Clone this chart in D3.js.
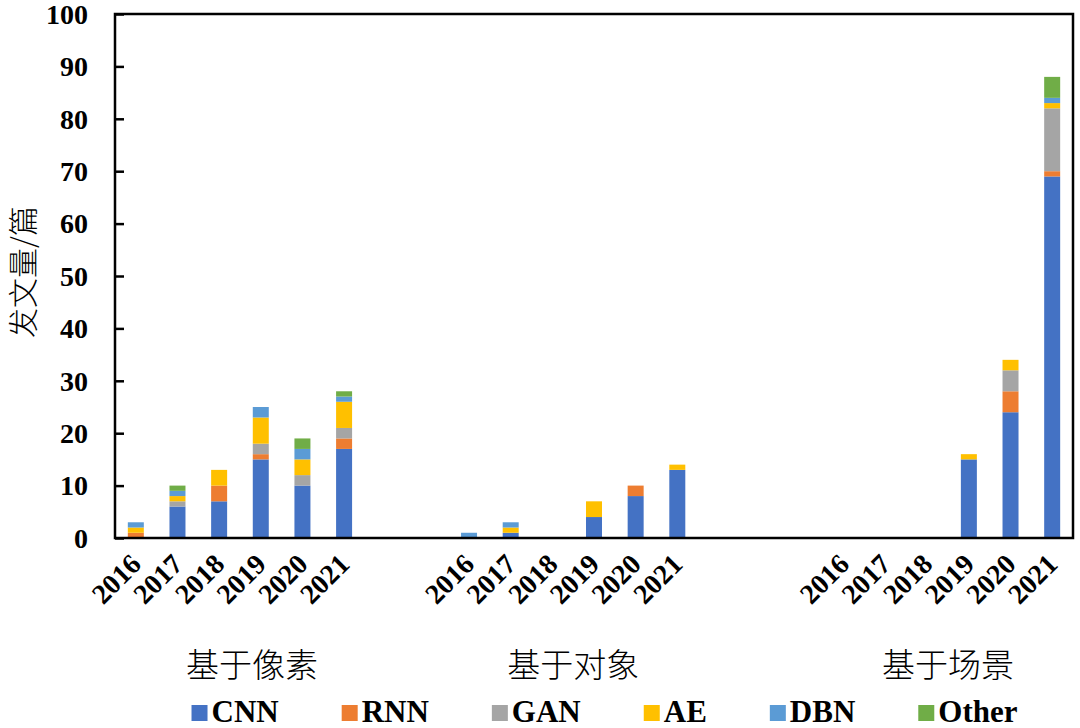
<!DOCTYPE html>
<html>
<head>
<meta charset="utf-8">
<script src="https://cdn.jsdelivr.net/npm/d3@7/dist/d3.min.js"></script>
<style>
  html, body { margin: 0; padding: 0; background: #fff; }
  svg { display: block; }
</style>
</head>
<body>
<svg id="chart" width="1080" height="728"></svg>
<script>
// ---------------- data ----------------
const seriesNames = ["CNN", "RNN", "GAN", "AE", "DBN", "Other"];
const seriesColors = ["#4472C4", "#ED7D31", "#A5A5A5", "#FFC000", "#5B9BD5", "#70AD47"];
const groupNames = ["基于像素", "基于对象", "基于场景"];
const years = ["2016", "2017", "2018", "2019", "2020", "2021"];
const blankSlotsAfterGroup = [2, 3];          // empty categories between groups
const yTicks = [0, 10, 20, 30, 40, 50, 60, 70, 80, 90, 100];
const yTitle = "发文量/篇";

// values per group, per series, per year
const pixelCNN   = [0, 6, 7, 15, 10, 17];
const pixelRNN   = [1, 0, 3, 1, 0, 2];
const pixelGAN   = [0, 1, 0, 2, 2, 2];
const pixelAE    = [1, 1, 3, 5, 3, 5];
const pixelDBN   = [1, 1, 0, 2, 2, 1];
const pixelOther = [0, 1, 0, 0, 2, 1];

const objectCNN   = [0, 1, 0, 4, 8, 13];
const objectRNN   = [0, 0, 0, 0, 2, 0];
const objectGAN   = [0, 0, 0, 0, 0, 0];
const objectAE    = [0, 1, 0, 3, 0, 1];
const objectDBN   = [1, 1, 0, 0, 0, 0];
const objectOther = [0, 0, 0, 0, 0, 0];

const sceneCNN   = [0, 0, 0, 15, 24, 69];
const sceneRNN   = [0, 0, 0, 0, 4, 1];
const sceneGAN   = [0, 0, 0, 0, 4, 12];
const sceneAE    = [0, 0, 0, 1, 2, 1];
const sceneDBN   = [0, 0, 0, 0, 0, 1];
const sceneOther = [0, 0, 0, 0, 0, 4];

const groupValues = [
  [pixelCNN, pixelRNN, pixelGAN, pixelAE, pixelDBN, pixelOther],
  [objectCNN, objectRNN, objectGAN, objectAE, objectDBN, objectOther],
  [sceneCNN, sceneRNN, sceneGAN, sceneAE, sceneDBN, sceneOther]
];

// ---------------- build table ----------------
const slots = [];   // {key, group, year} ; blanks have group = null
const rows = [];
groupNames.forEach((g, gi) => {
  years.forEach((yr, yi) => {
    const key = g + "|" + yr;
    slots.push({ key, group: gi, year: yr });
    const row = { key };
    seriesNames.forEach((s, si) => { row[s] = groupValues[gi][si][yi]; });
    rows.push(row);
  });
  if (gi < blankSlotsAfterGroup.length) {
    for (let b = 0; b < blankSlotsAfterGroup[gi]; b++) {
      slots.push({ key: "blank" + gi + "_" + b, group: null, year: null });
    }
  }
});

// ---------------- layout ----------------
const svg = d3.select("#chart");
const plot = { left: 115, right: 1073, top: 14, bottom: 538 };
const pad = 0.616;

const x = d3.scaleBand()
  .domain(slots.map(d => d.key))
  .range([plot.left, plot.right])
  .paddingInner(pad)
  .paddingOuter(pad / 2);

const y = d3.scaleLinear().domain([0, 100]).range([plot.bottom, plot.top]);

const color = d3.scaleOrdinal().domain(seriesNames).range(seriesColors);

const stack = d3.stack().keys(seriesNames);
const stacked = stack(rows);

// bars
svg.append("g")
  .selectAll("g")
  .data(stacked)
  .join("g")
  .attr("fill", d => color(d.key))
  .selectAll("rect")
  .data(d => d.filter(p => p[1] - p[0] > 0))
  .join("rect")
  .attr("x", p => x(p.data.key))
  .attr("width", x.bandwidth())
  .attr("y", p => y(p[1]))
  .attr("height", p => y(p[0]) - y(p[1]));

// y axis (ticks inside)
const yAxis = d3.axisRight(y).tickValues(yTicks).tickSize(9).tickFormat("");
const yg = svg.append("g")
  .attr("transform", `translate(${plot.left},0)`)
  .call(yAxis);
yg.select(".domain").remove();
yg.selectAll(".tick line").attr("stroke", "#000").attr("stroke-width", 2.5);

// y tick labels
svg.append("g")
  .selectAll("text")
  .data(yTicks)
  .join("text")
  .attr("x", 88)
  .attr("y", d => y(d))
  .attr("dy", "0.35em")
  .attr("text-anchor", "end")
  .attr("font-family", "'Liberation Serif', 'Times New Roman', serif")
  .attr("font-weight", "bold")
  .attr("font-size", 28)
  .attr("fill", "#000")
  .text(d => d);

// plot frame
svg.append("rect")
  .attr("x", plot.left)
  .attr("y", plot.top)
  .attr("width", plot.right - plot.left)
  .attr("height", plot.bottom - plot.top)
  .attr("fill", "none")
  .attr("stroke", "#000")
  .attr("stroke-width", 2.5);

// year labels (rotated)
svg.append("g")
  .selectAll("text")
  .data(slots.filter(s => s.year !== null))
  .join("text")
  .attr("transform", s => `translate(${x(s.key) + x.bandwidth() / 2},${559}) rotate(-45)`)
  .attr("dy", "0.35em")
  .attr("text-anchor", "end")
  .attr("font-family", "'Liberation Serif', 'Times New Roman', serif")
  .attr("font-weight", "bold")
  .attr("font-size", 28)
  .attr("fill", "#000")
  .text(s => s.year);

// group labels
svg.append("g")
  .selectAll("text")
  .data(groupNames)
  .join("text")
  .attr("x", (g, gi) => {
    const ks = slots.filter(s => s.group === gi).map(s => s.key);
    const c = (x(ks[0]) + x(ks[ks.length - 1]) + x.bandwidth()) / 2;
    return gi === 0 ? c + 12 : c;
  })
  .attr("y", 677)
  .attr("text-anchor", "middle")
  .attr("font-family", "'Noto Sans CJK SC', sans-serif")
  .attr("font-weight", 300)
  .attr("font-size", 33)
  .attr("fill", "#000")
  .text(g => g);

// y title
svg.append("text")
  .attr("transform", `translate(23,272) rotate(-90)`)
  .attr("dy", "0.35em")
  .attr("text-anchor", "middle")
  .attr("font-family", "'Noto Sans CJK SC', sans-serif")
  .attr("font-weight", 300)
  .attr("font-size", 30)
  .attr("fill", "#000")
  .text(yTitle);

// legend
const legend = svg.append("g");
const sq = 16, sqGap = 4, entryGap = 63;
const entries = legend.selectAll("g")
  .data(seriesNames)
  .join("g");
entries.append("rect")
  .attr("width", sq).attr("height", sq)
  .attr("y", 705)
  .attr("fill", d => color(d));
entries.append("text")
  .attr("x", sq + sqGap)
  .attr("y", 722)
  .attr("font-family", "'Liberation Serif', 'Times New Roman', serif")
  .attr("font-weight", "bold")
  .attr("font-size", 31)
  .attr("fill", "#000")
  .text(d => d);
let cx = 0;
const offsets = [];
entries.each(function () {
  offsets.push(cx);
  const w = sq + sqGap + d3.select(this).select("text").node().getComputedTextLength();
  cx += w + entryGap;
});
const totalW = cx - entryGap;
const legendStart = 604.5 - totalW / 2;
entries.attr("transform", (d, i) => `translate(${legendStart + offsets[i]},0)`);
</script>
</body>
</html>
